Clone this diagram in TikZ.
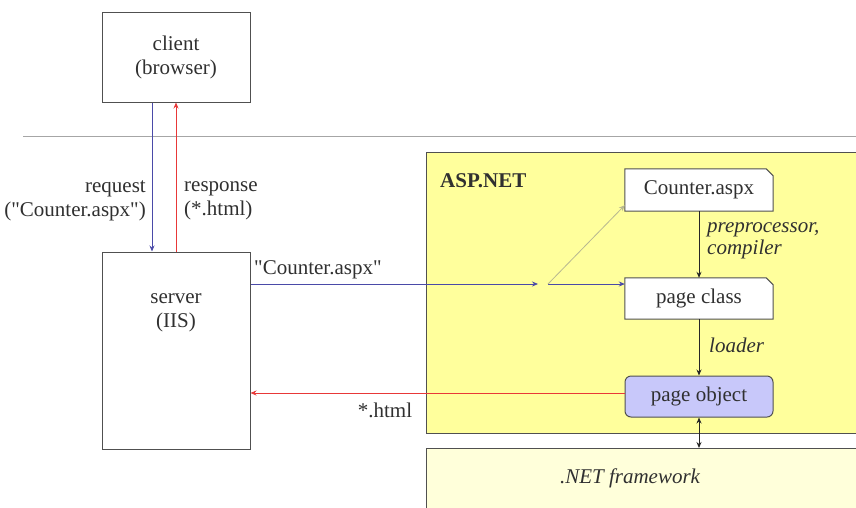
\documentclass[tikz,border=0pt]{standalone}
\usepackage{fontspec}
\setmainfont{Liberation Serif}[Ligatures=TeXOff]
\usetikzlibrary{arrows.meta}
\definecolor{boxgray}{HTML}{505050}
\definecolor{lblue}{HTML}{4A4AA8}
\definecolor{lred}{HTML}{E83838}
\definecolor{aspyellow}{HTML}{FFFF9C}
\definecolor{netyellow}{HTML}{FFFFDA}
\definecolor{lavender}{HTML}{C8C8FA}
\definecolor{txt}{HTML}{303030}
\definecolor{faint}{HTML}{B8B890}
\begin{document}
\begin{tikzpicture}[x=1pt,y=-1pt,
  font=\fontsize{21}{24}\selectfont, text=txt,
  box/.style={draw=boxgray, line width=1pt, fill=white, inner sep=0pt},
  docbox/.style={inner sep=0pt, minimum width=148pt, minimum height=42pt},
  tipstyle/.style={-{Stealth[length=6pt,width=5pt]}},
  blueline/.style={draw=lblue, line width=0.8pt, tipstyle},
  redline/.style={draw=lred, line width=0.8pt, tipstyle},
  blkline/.style={draw=black!85, line width=0.9pt, tipstyle},
  lbl/.style={inner sep=0pt}]
\useasboundingbox (0,0) rectangle (856,507);
\fill[white] (0,0) rectangle (856,507);
% separator
\coordinate (sepL) at (23,136);
\coordinate (sepR) at (856,136);
\draw[gray!70, line width=0.8pt] (sepL) -- (sepR);
% client and server
\node[box, minimum width=148pt, minimum height=90pt, align=center] (client) at (176,57) {client\\(browser)};
\node[box, minimum width=148pt, minimum height=197pt] (server) at (176,350.5) {};
\node[lbl, align=center] (servertxt) at (176,313) {server\\(IIS)};
% ASP.NET area
\node[draw=boxgray, line width=1pt, fill=aspyellow, minimum width=440pt, minimum height=281pt, anchor=north west, inner sep=0pt] (asp) at (426,152) {};
\node[draw=boxgray, line width=1pt, fill=netyellow, minimum width=440pt, minimum height=70pt, anchor=north west, inner sep=0pt] (net) at (426,448) {};
\node[lbl, font=\fontsize{21}{24}\selectfont\itshape] (nettxt) at (630,478) {.NET framework};
\node[lbl, anchor=west, font=\fontsize{21}{24}\selectfont\bfseries] (asplbl) at (440,181) {ASP.NET};
% document boxes
\node[docbox] (counter) at (699,190) {Counter.aspx};
\node[docbox, minimum height=41pt] (pclass) at (699,298.5) {page class};
\foreach \n in {counter,pclass}{
  \draw[boxgray, line width=1pt, fill=white] (\n.north west) -- ([xshift=-7pt]\n.north east) -- ([yshift=-7pt]\n.north east) -- (\n.south east) -- (\n.south west) -- cycle;
}
\node[docbox] (counter2) at (699,190) {Counter.aspx};
\node[docbox, minimum height=41pt] (pclass2) at (699,298.5) {page class};
\node[draw=boxgray, line width=1pt, fill=lavender, rounded corners=6pt, minimum width=148pt, minimum height=41pt, inner sep=0pt] (pobj) at (699,396.5) {page object};
% client-server arrows
\coordinate (reqx) at (152,0);
\draw[blueline] (client.south -| reqx) -- (server.north -| reqx);
\draw[redline] (server.north) -- (client.south);
\node[lbl, anchor=east, align=right] (reqlbl) at (146,201) {request\\("Counter.aspx")};
\node[lbl, anchor=west, align=left] (reslbl) at (184,201) {response\\(*.html)};
% server to ASP.NET
\coordinate (mid1) at (538,284);
\coordinate (junc) at (548,284);
\draw[blueline] (server.east |- mid1) -- (mid1);
\draw[blueline] (junc) -- (pclass.west |- junc);
\draw[draw=faint, line width=0.8pt, tipstyle] (junc) -- ([yshift=6pt]counter.south west);
\node[lbl, anchor=west] (cntlbl) at (254,270) {"Counter.aspx"};
% internal arrows
\draw[blkline] (counter.south) -- (pclass.north);
\draw[blkline] (pclass.south) -- (pobj.north);
\draw[draw=black!85, line width=0.9pt, {Stealth[length=6pt,width=5pt]}-{Stealth[length=6pt,width=5pt]}] (pobj.south) -- (pobj.south |- net.north);
\node[lbl, anchor=north west, align=left, font=\fontsize{21}{22}\selectfont\itshape] (pre) at (707,222) {preprocessor,\\compiler};
\node[lbl, anchor=west, font=\fontsize{21}{24}\selectfont\itshape] (loader) at (709,345) {loader};
% response
\draw[redline] (pobj.west |- 0,393) -- (server.east |- 0,393);
\node[lbl] (htmllbl) at (385,410) {*.html};
\end{tikzpicture}
\end{document}
